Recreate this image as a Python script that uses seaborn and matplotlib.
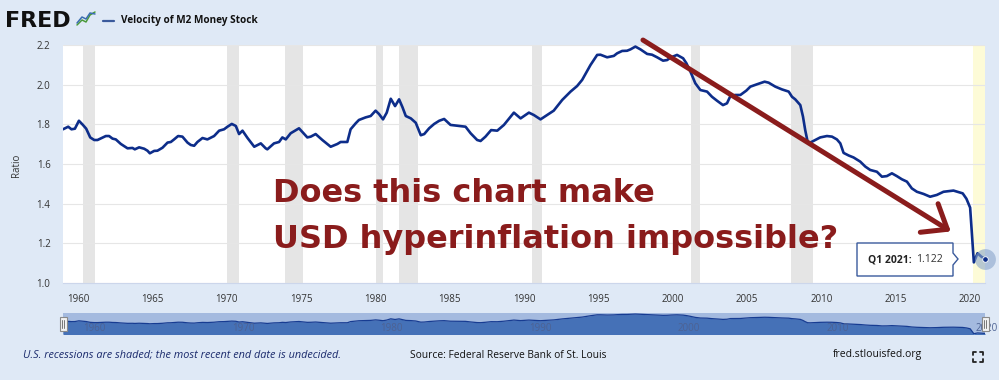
import matplotlib
matplotlib.use("Agg")
from matplotlib import pyplot as plt
from matplotlib.patches import Rectangle, Polygon
from matplotlib.lines import Line2D
import seaborn as sns

# velocity of M2 money stock
years = [1959.0, 1959.35, 1959.57, 1959.8, 1960.07, 1960.34, 1960.56, 1960.83, 1961.1, 1961.32,
         1961.55, 1961.88, 1962.1, 1962.33, 1962.55, 1962.89, 1963.34, 1963.67, 1963.83, 1964.12,
         1964.46, 1964.68, 1964.84, 1965.13, 1965.35, 1965.69, 1966.03, 1966.25, 1966.47, 1966.74,
         1967.03, 1967.37, 1967.59, 1967.82, 1968.04, 1968.38, 1968.71, 1969.16, 1969.5, 1969.83,
         1970.06, 1970.35, 1970.62, 1970.84, 1971.07, 1971.41, 1971.86, 1972.3, 1972.63, 1972.74,
         1973.19, 1973.53, 1973.75, 1973.98, 1974.31, 1974.87, 1975.43, 1975.66, 1975.99, 1976.44,
         1977.0, 1977.45, 1977.67, 1978.12, 1978.34, 1978.68, 1978.9, 1979.35, 1979.69, 1980.02,
         1980.25, 1980.52, 1980.77, 1981.04, 1981.33, 1981.6, 1981.83, 1982.05, 1982.39, 1982.72,
         1983.06, 1983.29, 1983.62, 1983.96, 1984.3, 1984.63, 1985.06, 1985.51, 1986.07, 1986.41,
         1986.85, 1987.08, 1987.41, 1987.79, 1988.2, 1988.65, 1989.32, 1989.77, 1990.33, 1990.66,
         1991.11, 1991.56, 1992.0, 1992.57, 1993.13, 1993.57, 1993.91, 1994.47, 1994.92, 1995.14,
         1995.59, 1996.04, 1996.26, 1996.6, 1996.93, 1997.16, 1997.49, 1997.83, 1998.28, 1998.61,
         1998.95, 1999.35, 1999.62, 1999.89, 2000.29, 2000.7, 2000.92, 2001.19, 2001.52, 2001.86,
         2002.31, 2002.64, 2002.98, 2003.38, 2003.65, 2003.88, 2004.21, 2004.55, 2004.95, 2005.22,
         2005.67, 2006.18, 2006.45, 2006.9, 2007.35, 2007.8, 2008.02, 2008.24, 2008.58, 2008.76,
         2008.91, 2009.07, 2009.25, 2009.59, 2009.92, 2010.37, 2010.71, 2011.04, 2011.27, 2011.49,
         2011.83, 2012.16, 2012.61, 2012.95, 2013.28, 2013.73, 2014.07, 2014.4, 2014.74, 2015.07,
         2015.41, 2015.75, 2016.08, 2016.42, 2016.87, 2017.31, 2017.76, 2018.21, 2018.88, 2019.5,
         2019.75, 2020.0, 2020.25, 2020.5, 2020.75, 2021.0]
velocity = [1.775, 1.788, 1.775, 1.778, 1.818, 1.797, 1.778, 1.734, 1.721, 1.721,
            1.729, 1.741, 1.741, 1.728, 1.724, 1.701, 1.679, 1.681, 1.674, 1.684,
            1.677, 1.667, 1.654, 1.666, 1.667, 1.682, 1.708, 1.711, 1.724, 1.741,
            1.738, 1.708, 1.696, 1.692, 1.711, 1.731, 1.724, 1.741, 1.768, 1.775,
            1.788, 1.802, 1.792, 1.751, 1.768, 1.731, 1.687, 1.704, 1.679, 1.674,
            1.704, 1.711, 1.734, 1.724, 1.755, 1.780, 1.734, 1.738, 1.751, 1.721,
            1.687, 1.701, 1.711, 1.711, 1.775, 1.805, 1.822, 1.835, 1.842, 1.869,
            1.852, 1.825, 1.859, 1.929, 1.892, 1.926, 1.886, 1.842, 1.830, 1.808,
            1.745, 1.751, 1.780, 1.802, 1.818, 1.827, 1.797, 1.793, 1.788, 1.755,
            1.721, 1.716, 1.738, 1.771, 1.768, 1.797, 1.859, 1.830, 1.859, 1.847,
            1.825, 1.847, 1.869, 1.923, 1.965, 1.993, 2.024, 2.099, 2.150, 2.151,
            2.138, 2.145, 2.158, 2.170, 2.171, 2.178, 2.192, 2.178, 2.155, 2.151,
            2.138, 2.121, 2.124, 2.138, 2.150, 2.133, 2.108, 2.066, 2.007, 1.973,
            1.965, 1.939, 1.919, 1.897, 1.906, 1.943, 1.948, 1.948, 1.970, 1.990,
            2.002, 2.015, 2.010, 1.990, 1.976, 1.965, 1.939, 1.926, 1.897, 1.839,
            1.771, 1.713, 1.708, 1.721, 1.734, 1.741, 1.738, 1.724, 1.704, 1.656,
            1.643, 1.633, 1.612, 1.587, 1.570, 1.561, 1.536, 1.539, 1.553, 1.539,
            1.523, 1.511, 1.477, 1.460, 1.449, 1.435, 1.444, 1.460, 1.466, 1.452,
            1.425, 1.380, 1.104, 1.150, 1.133, 1.122]

# recessions (start, end)
rec_start = [1960.35, 1970.0, 1973.9, 1980.08, 1981.58, 1990.57, 2001.22, 2007.97]
rec_end = [1961.12, 1970.84, 1975.17, 1980.5, 1982.89, 1991.2, 2001.86, 2009.43]
open_rec_start = 2020.16

year_ticks = [1960, 1965, 1970, 1975, 1980, 1985, 1990, 1995, 2000, 2005, 2010, 2015, 2020]
ratio_ticks = [1.0, 1.2, 1.4, 1.6, 1.8, 2.0, 2.2]
nav_labels = [1960, 1970, 1980, 1990, 2000, 2010, 2020]

# hand-drawn arrow (tail -> head), in data units
arrow_tail = (1998.0, 2.225)
arrow_head = (2018.7, 1.26)

last_label = "Q1 2021:"
last_value = "1.122"

W, H = 999, 380
def fx(x):
    return x / W
def fy(y):
    return 1 - y / H

sns.set_style("white")
plt.rcParams['font.family'] = ['Open Sans', 'DejaVu Sans']

bg = '#dfe9f6'
line_c = '#0d2d8a'
red = '#8a1c1c'

fig = plt.figure(figsize=(9.99, 3.80), dpi=100, facecolor=bg)

ax = fig.add_axes([fx(63), fy(283), fx(985) - fx(63), fy(45) - fy(283)])
ax.set_facecolor('white')

for a, b in zip(rec_start, rec_end):
    ax.axvspan(a, b, color='#e5e5e5', lw=0, zorder=0)
ax.axvspan(open_rec_start, 2021.2, color='#fdfbd7', lw=0, zorder=0)

sns.lineplot(x=years, y=velocity, ax=ax, color=line_c, lw=1.9, zorder=3)

ax.set_xlim(1959.0, 2021.0)
ax.set_ylim(1.0, 2.2)
ax.set_xticks(year_ticks)
ax.set_yticks(ratio_ticks)
ax.set_yticklabels([f"{t:.1f}" for t in ratio_ticks])
ax.yaxis.grid(True, color='#e6e6e6', lw=0.8)
ax.set_axisbelow(True)
for s in ['top', 'right', 'left']:
    ax.spines[s].set_visible(False)
ax.spines['bottom'].set_color('#ccd6eb')
ax.tick_params(axis='y', length=0, pad=9, labelsize=7, labelcolor='#333333')
ax.tick_params(axis='x', length=5, width=0.8, color='#ccd6eb', pad=3, labelsize=7, labelcolor='#333333')
ax.set_xlabel('')
ax.set_ylabel('')
fig.text(fx(17), fy(165), 'Ratio', rotation=90, ha='center', va='center', fontsize=7, color='#333333')

# last point marker with halo
ax.plot(years[-1], velocity[-1], 'o', ms=15, color='#8aa6cc', alpha=0.6, mec='none', clip_on=False, zorder=4)
ax.plot(years[-1], velocity[-1], 'o', ms=4, color=line_c, mec='white', mew=0.6, clip_on=False, zorder=5)

# tooltip
tip = Polygon([(fx(857), fy(243)), (fx(953), fy(243)), (fx(953), fy(253)), (fx(958), fy(259)),
               (fx(953), fy(265)), (fx(953), fy(276)), (fx(857), fy(276))],
              closed=True, transform=fig.transFigure, facecolor='white', edgecolor='#3a5a9c', lw=1.0, zorder=10)
fig.patches.append(tip)
fig.text(fx(868), fy(260), last_label, fontsize=7.5, fontweight='bold', color='#222222', va='center', zorder=11)
fig.text(fx(916), fy(260), last_value, fontsize=7.5, color='#333333', va='center', zorder=11)

# red annotation
ax.annotate('', xy=arrow_head, xytext=arrow_tail, xycoords='data',
            arrowprops=dict(arrowstyle='->,head_length=0.7,head_width=0.55', color=red, lw=3.6,
                            mutation_scale=22, shrinkA=0, shrinkB=0),
            annotation_clip=False, zorder=6)
fig.text(fx(273), fy(202), 'Does this chart make', family='DejaVu Sans', fontweight='bold',
         fontsize=23, color=red, va='baseline', zorder=7)
fig.text(fx(273), fy(248), 'USD hyperinflation impossible?', family='DejaVu Sans', fontweight='bold',
         fontsize=23, color=red, va='baseline', zorder=7)

# navigator
nav = fig.add_axes([fx(63), fy(334), fx(985) - fx(63), fy(313) - fy(334)])
nav.set_facecolor('#a4badf')
nav.fill_between(years, velocity, 0, color='#4571b7', lw=0)
sns.lineplot(x=years, y=velocity, ax=nav, color='#173c92', lw=0.9)
nav.set_xlim(1959.0, 2021.0)
nav.set_ylim(1.09, 2.25)
nav.set_xticks([])
nav.set_yticks([])
nav.set_xlabel('')
nav.set_ylabel('')
for s in nav.spines.values():
    s.set_visible(False)
for yr in nav_labels:
    nav.text(yr + 0.35, 0.28, str(yr), transform=nav.get_xaxis_transform(), fontsize=7,
             color='#4d6293', va='center', ha='left')
for hx in [63, 985]:
    fig.patches.append(Rectangle((fx(hx - 3.5), fy(331)), fx(7), fy(317) - fy(331), transform=fig.transFigure,
                                 facecolor='#f2f2f2', edgecolor='#8a8a8a', lw=0.8, zorder=5))
    for dx in (-1.2, 1.2):
        fig.lines.append(Line2D([fx(hx + dx), fx(hx + dx)], [fy(320), fy(328)], transform=fig.transFigure,
                                color='#777777', lw=0.7, zorder=6))

# header
fig.text(fx(5), fy(27), 'FRED', family='DejaVu Sans', fontweight='heavy', fontsize=16, color='#111111',
         va='baseline')
fig.lines.append(Line2D([fx(77), fx(82), fx(86), fx(90), fx(95)], [fy(25), fy(20), fy(22), fy(15), fy(12)],
                        transform=fig.transFigure, color='#4a9a3a', lw=1.1))
fig.lines.append(Line2D([fx(77), fx(82), fx(86), fx(90), fx(95)], [fy(23), fy(17), fy(19), fy(13), fy(14)],
                        transform=fig.transFigure, color='#3a6db0', lw=1.1))
fig.lines.append(Line2D([fx(103), fx(114)], [fy(20.5), fy(20.5)], transform=fig.transFigure,
                        color='#3a5a9c', lw=1.6))
fig.text(fx(121), fy(21), 'Velocity of M2 Money Stock', fontsize=7.2, fontweight='bold', color='#111111',
         va='center')

# footer
fig.text(fx(23), fy(355), 'U.S. recessions are shaded; the most recent end date is undecided.',
         fontsize=7.8, style='italic', color='#1a2a6c', va='center')
fig.text(fx(410), fy(355), 'Source: Federal Reserve Bank of St. Louis', fontsize=7.4, color='#111111', va='center')
fig.text(fx(833), fy(355), 'fred.stlouisfed.org', fontsize=7.5, color='#111111', va='center')
cx, cy, r, k = 978, 357, 5, 3
for sx in (-1, 1):
    for sy in (-1, 1):
        fig.lines.append(Line2D([fx(cx + sx * r), fx(cx + sx * r), fx(cx + sx * (r - k))],
                                [fy(cy + sy * (r - k)), fy(cy + sy * r), fy(cy + sy * r)],
                                transform=fig.transFigure, color='#222222', lw=1.3))

fig.savefig('out.png', dpi=100, facecolor=bg)
